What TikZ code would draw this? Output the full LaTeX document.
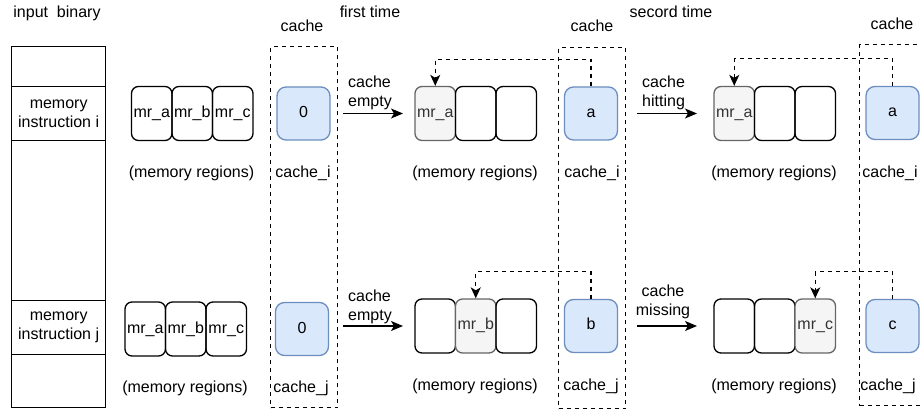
\documentclass[tikz,border=0pt]{standalone}
\usepackage{fontspec}
\setmainfont{Liberation Sans}
\usetikzlibrary{arrows.meta}
\definecolor{bluefill}{HTML}{DAE8FC}
\definecolor{blueline}{HTML}{6C8EBF}
\definecolor{grayfill}{HTML}{F5F5F5}
\definecolor{grayline}{HTML}{666666}
\definecolor{graytext}{HTML}{333333}
\begin{document}
\begin{tikzpicture}[x=1pt,y=-1pt,
  every node/.style={font=\fontsize{16}{19.2}\selectfont, inner sep=0pt},
  lw/.style={line width=1.3pt},
  cell/.style={draw,lw,minimum width=94pt,anchor=north west,align=center},
  mr/.style={draw,lw,rounded corners=7pt,minimum width=40.5pt,minimum height=54pt,text height=11.5pt,text depth=3.5pt},
  mrhit/.style={mr,fill=grayfill,draw=grayline,text=graytext},
  cbox/.style={draw=blueline,fill=bluefill,lw,rounded corners=9pt,minimum width=53pt,minimum height=53pt,text height=11.5pt,text depth=3.5pt},
  cregion/.style={draw,lw,dash pattern=on 4pt off 4pt,anchor=north west,minimum width=67pt,minimum height=361pt},
  arr/.style={lw,-{Stealth[length=12pt,width=10pt,inset=3pt]}},
  darr/.style={lw,dash pattern=on 4pt off 4pt,-{Stealth[length=11pt,width=10pt,inset=3pt]}},
  lbl/.style={align=left,anchor=west}
]
\useasboundingbox (0,0) rectangle (920,411);
\clip (0,0) rectangle (920,411);

% input binary column
\node (tin) at (57,13) {input~~binary};
\node[cell,minimum height=40pt] (b0) at (11,46) {};
\node[cell,minimum height=54pt] (b1) at (11,86) {memory\\instruction i};
\node[cell,minimum height=160pt] (b2) at (11,140) {};
\node[cell,minimum height=54pt] (b3) at (11,300) {memory\\instruction j};
\node[cell,minimum height=53pt] (b4) at (11,354) {};

% titles
\node (tc1) at (302,26) {cache};
\node (tft) at (370,12) {first time};
\node (tc2) at (592,26) {cache};
\node (tst) at (671,12) {secord time};
\node (tc3) at (892,24) {cache};

% cache regions
\node[cregion] (r1) at (270,46) {};
\node[cregion] (r2) at (558,47) {};
\node[cregion,minimum width=80pt,minimum height=361pt] (r3) at (859,44) {};

% group 1
\node[mr] (g1ia) at (151.75,113.5) {mr\_a};
\node[mr] (g1ib) at (192.25,113.5) {mr\_b};
\node[mr] (g1ic) at (232.75,113.5) {mr\_c};
\node[mr] (g1ja) at (145.25,329) {mr\_a};
\node[mr] (g1jb) at (185.75,329) {mr\_b};
\node[mr] (g1jc) at (226.25,329) {mr\_c};
\node (m1i) at (191.5,173) {(memory regions)};
\node (m1j) at (185,388) {(memory regions)};

% cache column 1
\node[cbox] (k1i) at (303.5,113.5) {0};
\node[cbox] (k1j) at (302,329) {0};
\node (ci1) at (303,173) {cache\_i};
\node (cj1) at (301,388) {cache\_j};

% arrows first time
\coordinate (a1s) at (343,113.5);
\coordinate (a1e) at (403,113.5);
\coordinate (a2s) at (343,326);
\coordinate (a2e) at (403,326);
\draw[arr] (a1s) -- (a1e);
\draw[arr] (a2s) -- (a2e);
\node[lbl] (l1) at (348,93) {cache\\empty};
\node[lbl] (l2) at (348,306.5) {cache\\empty};

% group 2
\node[mrhit] (g2ia) at (435.25,113.5) {mr\_a};
\node[mr] (g2ib) at (475.75,113.5) {};
\node[mr] (g2ic) at (516.25,113.5) {};
\node[mr] (g2ja) at (435.25,326) {};
\node[mrhit] (g2jb) at (475.75,326) {mr\_b};
\node[mr] (g2jc) at (516.25,326) {};
\node (m2i) at (475,173) {(memory regions)};
\node (m2j) at (475,386) {(memory regions)};

% cache column 2
\node[cbox] (k2i) at (591,113.5) {a};
\node[cbox] (k2j) at (591,326) {b};
\node (ci2) at (592,173) {cache\_i};
\node (cj2) at (591,386) {cache\_j};
\draw[darr] (k2i.north) -- ++(0,-27) -| (g2ia.north);
\draw[darr] (k2j.north) -- ++(0,-27) -| (g2jb.north);

% arrows second time
\coordinate (a3s) at (637,113.5);
\coordinate (a3e) at (697,113.5);
\coordinate (a4s) at (637,326);
\coordinate (a4e) at (697,326);
\draw[arr] (a3s) -- (a3e);
\draw[arr] (a4s) -- (a4e);
\node[lbl] (l3) at (642,93) {cache\\hitting};
\node[align=center] (l4) at (663,302) {cache\\missing};

% group 3
\node[mrhit] (g3ia) at (734.25,113.5) {mr\_a};
\node[mr] (g3ib) at (774.75,113.5) {};
\node[mr] (g3ic) at (815.25,113.5) {};
\node[mr] (g3ja) at (734.25,326) {};
\node[mr] (g3jb) at (774.75,326) {};
\node[mrhit] (g3jc) at (815.25,326) {mr\_c};
\node (m3i) at (774,173) {(memory regions)};
\node (m3j) at (774,386) {(memory regions)};

% cache column 3
\node[cbox] (k3i) at (892.5,113) {a};
\node[cbox] (k3j) at (892.5,326) {c};
\node (ci3) at (890,173) {cache\_i};
\node (cj3) at (888,386) {cache\_j};
\draw[darr] (k3i.north) -- ++(0,-27) -| (g3ia.north);
\draw[darr] (k3j.north) -- ++(0,-27) -| (g3jc.north);
\end{tikzpicture}
\end{document}
